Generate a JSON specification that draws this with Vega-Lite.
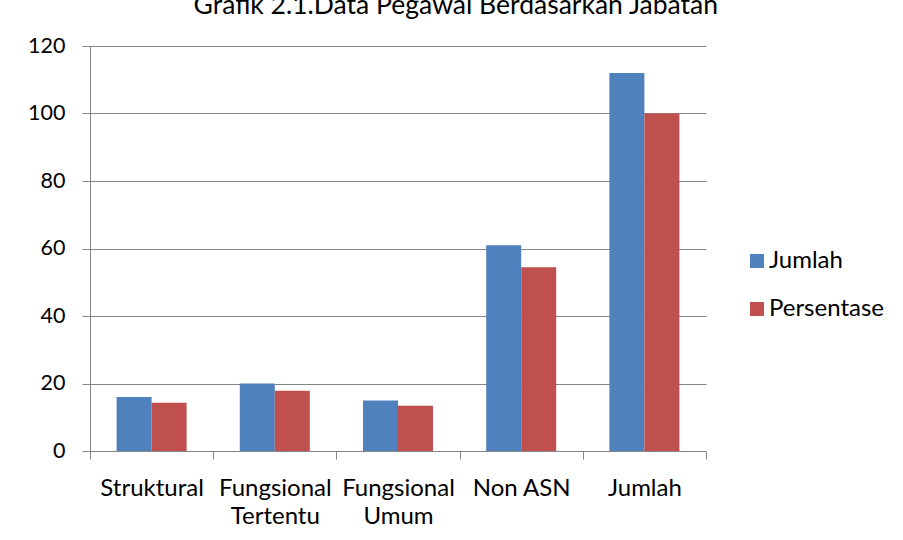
{
  "$schema": "https://vega.github.io/schema/vega-lite/v6.json",
  "width": 616,
  "height": 405,
  "autosize": {"type": "none"},
  "padding": {"left": 90, "top": 46, "right": 197, "bottom": 89},
  "title": {
    "text": "Grafik 2.1.Data Pegawai Berdasarkan Jabatan",
    "font": "Lato",
    "fontSize": 26.5,
    "fontWeight": "normal",
    "color": "#000000",
    "anchor": "middle",
    "frame": "bounds",
    "offset": 16
  },
  "data": {
    "values": [
      {"jabatan": "Struktural", "seri": "Jumlah", "nilai": 16},
      {"jabatan": "Struktural", "seri": "Persentase", "nilai": 14.29},
      {"jabatan": "Fungsional Tertentu", "seri": "Jumlah", "nilai": 20},
      {"jabatan": "Fungsional Tertentu", "seri": "Persentase", "nilai": 17.86},
      {"jabatan": "Fungsional Umum", "seri": "Jumlah", "nilai": 15},
      {"jabatan": "Fungsional Umum", "seri": "Persentase", "nilai": 13.39},
      {"jabatan": "Non ASN", "seri": "Jumlah", "nilai": 61},
      {"jabatan": "Non ASN", "seri": "Persentase", "nilai": 54.46},
      {"jabatan": "Jumlah", "seri": "Jumlah", "nilai": 112},
      {"jabatan": "Jumlah", "seri": "Persentase", "nilai": 100}
    ]
  },
  "mark": {"type": "bar"},
  "encoding": {
    "x": {
      "field": "jabatan",
      "type": "nominal",
      "sort": null,
      "scale": {"paddingInner": 0, "paddingOuter": 0},
      "axis": {
        "title": null,
        "labelAngle": 0,
        "labelFont": "Lato",
        "labelFontSize": 24,
        "labelColor": "#000000",
        "labelPadding": 17,
        "labelLineHeight": 28,
        "labelExpr": "indexof(datum.label, 'Fungsional') == 0 ? split(datum.label, ' ') : datum.label",
        "tickBand": "extent",
        "tickSize": 8,
        "tickColor": "#868686",
        "domainColor": "#868686",
        "grid": false
      }
    },
    "xOffset": {
      "field": "seri",
      "type": "nominal",
      "scale": {"paddingInner": 0, "paddingOuter": 0.76}
    },
    "y": {
      "field": "nilai",
      "type": "quantitative",
      "scale": {"domain": [0, 120]},
      "axis": {
        "title": null,
        "values": [0, 20, 40, 60, 80, 100, 120],
        "labelFont": "Lato",
        "labelFontSize": 21.5,
        "labelColor": "#000000",
        "labelPadding": 17,
        "tickSize": 8,
        "tickColor": "#868686",
        "domainColor": "#868686",
        "gridColor": "#868686",
        "grid": true
      }
    },
    "color": {
      "field": "seri",
      "type": "nominal",
      "scale": {"domain": ["Jumlah", "Persentase"], "range": ["#4F81BD", "#C0504D"]},
      "legend": {
        "title": null,
        "orient": "none",
        "legendX": 655,
        "legendY": 203,
        "symbolType": "square",
        "symbolSize": 196,
        "symbolStrokeWidth": 0,
        "labelFont": "Lato",
        "labelFontSize": 24,
        "labelColor": "#000000",
        "labelOffset": 0,
        "rowPadding": 24
      }
    }
  },
  "config": {
    "view": {"stroke": null},
    "background": "#ffffff"
  }
}
